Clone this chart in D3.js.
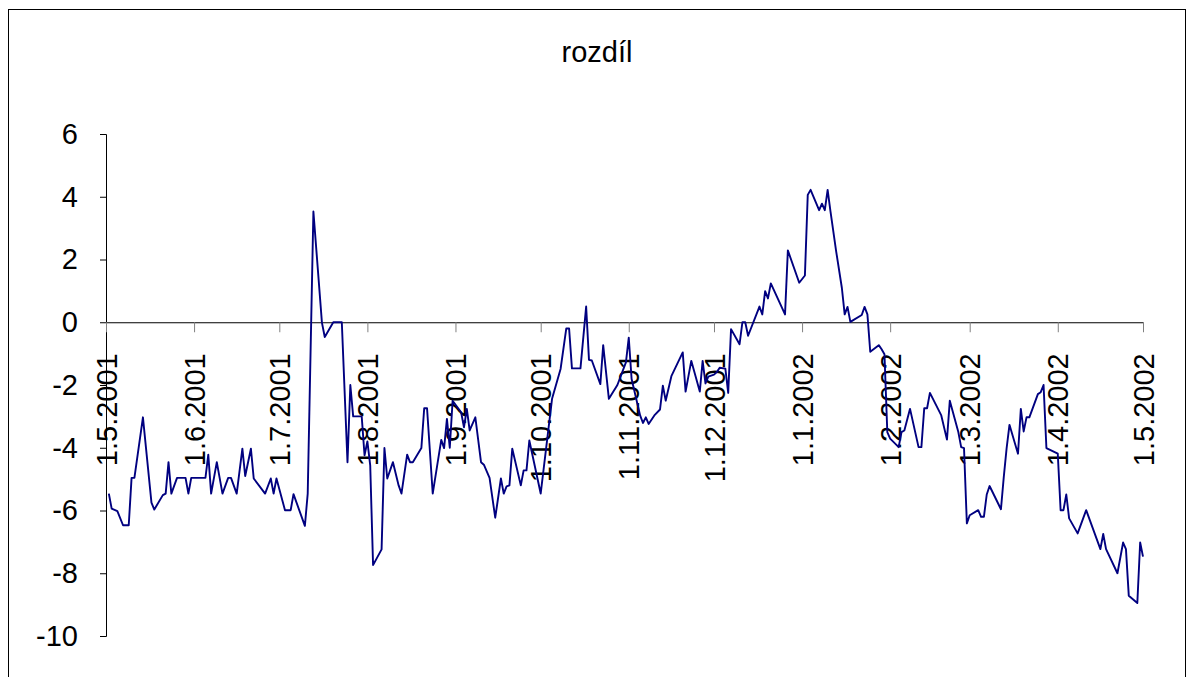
<!DOCTYPE html>
<html lang="cs">
<head>
    <meta charset="UTF-8">
    <title>rozdíl</title>
    <script src="https://d3js.org/d3.v7.min.js"></script>
    <style>
        body { margin: 0; background: #fff; }
        text { font-family: "Liberation Sans", Arial, sans-serif; fill: #000; }
        .line { fill: none; stroke: #000080; stroke-width: 1.9px; stroke-linejoin: round; }
    </style>
</head>
<body>
    <div id="chart"></div>

    <script>
        // data
        const dates = [
            "2001-05-02","2001-05-03","2001-05-05","2001-05-07","2001-05-09","2001-05-10","2001-05-11","2001-05-14","2001-05-17","2001-05-18","2001-05-21","2001-05-22","2001-05-23","2001-05-24","2001-05-26","2001-05-29","2001-05-30","2001-05-31",
            "2001-06-05","2001-06-06","2001-06-07","2001-06-09","2001-06-11","2001-06-13","2001-06-14","2001-06-16","2001-06-18","2001-06-19","2001-06-21","2001-06-22","2001-06-26","2001-06-28","2001-06-29","2001-06-30",
            "2001-07-03","2001-07-05","2001-07-06","2001-07-10","2001-07-11","2001-07-13","2001-07-16","2001-07-17","2001-07-20","2001-07-23","2001-07-25","2001-07-26","2001-07-27","2001-07-30","2001-07-31",
            "2001-08-01","2001-08-02","2001-08-03","2001-08-06","2001-08-07","2001-08-08","2001-08-10","2001-08-12","2001-08-13","2001-08-15","2001-08-16","2001-08-17","2001-08-20","2001-08-21","2001-08-22","2001-08-24","2001-08-27","2001-08-28","2001-08-29","2001-08-30","2001-08-31",
            "2001-09-03","2001-09-04","2001-09-05","2001-09-06","2001-09-08","2001-09-10","2001-09-11","2001-09-13","2001-09-15","2001-09-17","2001-09-18","2001-09-19","2001-09-20","2001-09-21","2001-09-24","2001-09-25","2001-09-26","2001-09-27",
            "2001-10-01","2001-10-05","2001-10-08","2001-10-10","2001-10-11","2001-10-12","2001-10-15","2001-10-17","2001-10-18","2001-10-19","2001-10-22","2001-10-23","2001-10-25","2001-10-28","2001-10-31",
            "2001-11-01","2001-11-02","2001-11-05","2001-11-06","2001-11-07","2001-11-08","2001-11-10","2001-11-12","2001-11-13","2001-11-14","2001-11-16","2001-11-20","2001-11-21","2001-11-23","2001-11-26","2001-11-27","2001-11-28","2001-11-29",
            "2001-12-01","2001-12-02","2001-12-03","2001-12-05","2001-12-06","2001-12-07","2001-12-10","2001-12-11","2001-12-12","2001-12-13","2001-12-17","2001-12-18","2001-12-19","2001-12-20","2001-12-21","2001-12-26","2001-12-27","2001-12-31",
            "2002-01-02","2002-01-03","2002-01-04","2002-01-07","2002-01-08","2002-01-09","2002-01-10","2002-01-11","2002-01-13","2002-01-15","2002-01-16","2002-01-17","2002-01-18","2002-01-22","2002-01-23","2002-01-24","2002-01-25","2002-01-28","2002-01-29","2002-01-30","2002-01-31",
            "2002-02-01","2002-02-04","2002-02-05","2002-02-06","2002-02-08","2002-02-11","2002-02-12","2002-02-13","2002-02-14","2002-02-15","2002-02-19","2002-02-21","2002-02-22","2002-02-25","2002-02-26","2002-02-27","2002-02-28",
            "2002-03-01","2002-03-04","2002-03-05","2002-03-06","2002-03-07","2002-03-08","2002-03-12","2002-03-13","2002-03-14","2002-03-15","2002-03-18","2002-03-19","2002-03-20","2002-03-21","2002-03-22","2002-03-25","2002-03-26","2002-03-27","2002-03-28",
            "2002-04-01","2002-04-02","2002-04-03","2002-04-04","2002-04-05","2002-04-08","2002-04-11","2002-04-16","2002-04-17","2002-04-18","2002-04-22","2002-04-24","2002-04-25","2002-04-26","2002-04-29","2002-04-30",
            "2002-05-01"
        ];

        const values = [
            -5.46, -5.94, -6.02, -6.47, -6.47, -4.96, -4.96, -3.03, -5.75, -5.97, -5.51, -5.46, -4.46, -5.46, -4.96, -4.96, -5.46, -4.96,
            -4.96, -4.22, -5.46, -4.46, -5.46, -4.96, -4.96, -5.46, -4.03, -4.9, -4.03, -4.98, -5.46, -4.98, -5.46, -4.98,
            -5.99, -5.99, -5.48, -6.49, -5.46, 3.53, -0.01, -0.47, 0, 0, -4.46, -2.0, -3.0, -3.0, -4.24,
            -3.8, -4.56, -7.74, -7.24, -4.01, -4.98, -4.46, -5.2, -5.46, -4.22, -4.46, -4.46, -4.01, -2.74, -2.74, -5.46, -3.75, -4.01, -3.08, -4.0, -2.5,
            -2.87, -3.35, -2.76, -3.45, -3.03, -4.46, -4.54, -4.96, -6.23, -4.98, -5.46, -5.23, -5.2, -4.03, -5.2, -4.72, -4.72, -3.77,
            -5.46, -2.44, -1.49, -0.2, -0.2, -1.47, -1.47, 0.5, -1.2, -1.22, -1.97, -0.73, -2.44, -2.0, -1.28,
            -0.49, -1.81, -2.97, -3.21, -3.03, -3.24, -2.97, -2.78, -2.02, -2.5, -1.72, -0.96, -2.21, -1.23, -2.21, -1.23, -1.95, -1.73,
            -1.67, -1.59, -1.45, -1.48, -2.25, -0.22, -0.7, 0, 0, -0.43, 0.5, 0.25, 0.99, 0.76, 1.24, 0.25, 2.29, 1.26,
            1.49, 4.06, 4.22, 3.57, 3.78, 3.57, 4.22, 3.53, 2.26, 1.1, 0.25, 0.49, 0.01, 0.23, 0.49, 0.25, -0.94, -0.73, -0.86, -1.02, -3.5,
            -3.71, -3.98, -3.5, -3.45, -2.76, -3.98, -3.98, -2.74, -2.74, -2.25, -2.97, -3.74, -2.5, -3.5, -3.98, -4.01, -6.41,
            -6.15, -5.99, -6.2, -6.2, -5.49, -5.22, -5.96, -4.93, -4.01, -3.27, -4.19, -2.76, -3.48, -3.03, -3.03, -2.29, -2.23, -2.0, -4.01,
            -4.19, -5.99, -5.99, -5.49, -6.25, -6.73, -5.99, -7.23, -6.75, -7.23, -8.0, -7.02, -7.23, -8.72, -8.95, -7.02,
            -7.47
        ];

        const xStart = "2001-05-01";
        const xEnd = "2002-05-01";
        const yTicks = [-10, -8, -6, -4, -2, 0, 2, 4, 6];
        const title = "rozdíl";

        const width = 1188;
        const height = 677;
        const parse = d3.timeParse("%Y-%m-%d");
        const data = dates.map((d, i) => ({ date: parse(d), value: values[i] }));

        const svg = d3.select('#chart').append('svg')
            .attr('width', width)
            .attr('height', height);

        // chart border
        svg.append('rect')
            .attr('x', 8.5).attr('y', 9.5)
            .attr('width', 1177).attr('height', 700)
            .attr('fill', 'none')
            .attr('stroke', '#000')
            .attr('stroke-width', 1);

        svg.append('text')
            .attr('x', 597)
            .attr('y', 62)
            .attr('text-anchor', 'middle')
            .style('font-size', '29px')
            .text(title);

        const x = d3.scaleTime()
            .domain([parse(xStart), parse(xEnd)])
            .range([106, 1143]);

        const y = d3.scaleLinear()
            .domain([-10, 6])
            .range([636, 134]);

        // y axis
        const yAxis = svg.append('g')
            .attr('transform', `translate(${x.range()[0]},0)`)
            .call(d3.axisLeft(y).tickValues(yTicks).tickSize(6).tickPadding(22).tickFormat(d => String(d)));
        yAxis.select('.domain').attr('stroke', '#000');
        yAxis.selectAll('.tick line').attr('stroke', '#000');
        yAxis.selectAll('text')
            .style('font-size', '29px')
            .style('font-family', '"Liberation Sans", Arial, sans-serif');

        // x axis through zero
        const xAxis = svg.append('g')
            .attr('transform', `translate(0,${y(0)})`)
            .call(d3.axisBottom(x).ticks(d3.timeMonth.every(1)).tickSize(10).tickSizeOuter(0)
                .tickFormat(d3.timeFormat('%-d.%-m.%Y')));
        xAxis.select('.domain').attr('stroke', '#000');
        xAxis.selectAll('.tick line').attr('stroke', '#808080');
        xAxis.selectAll('text')
            .attr('transform', 'rotate(-90)')
            .attr('text-anchor', 'end')
            .attr('x', -31)
            .attr('y', 0)
            .attr('dy', '0.35em')
            .style('font-size', '29px')
            .style('font-family', '"Liberation Sans", Arial, sans-serif');

        const line = d3.line()
            .x(d => x(d.date))
            .y(d => y(d.value));

        svg.append('path')
            .datum(data)
            .attr('class', 'line')
            .attr('d', line);
    </script>
</body>
</html>
